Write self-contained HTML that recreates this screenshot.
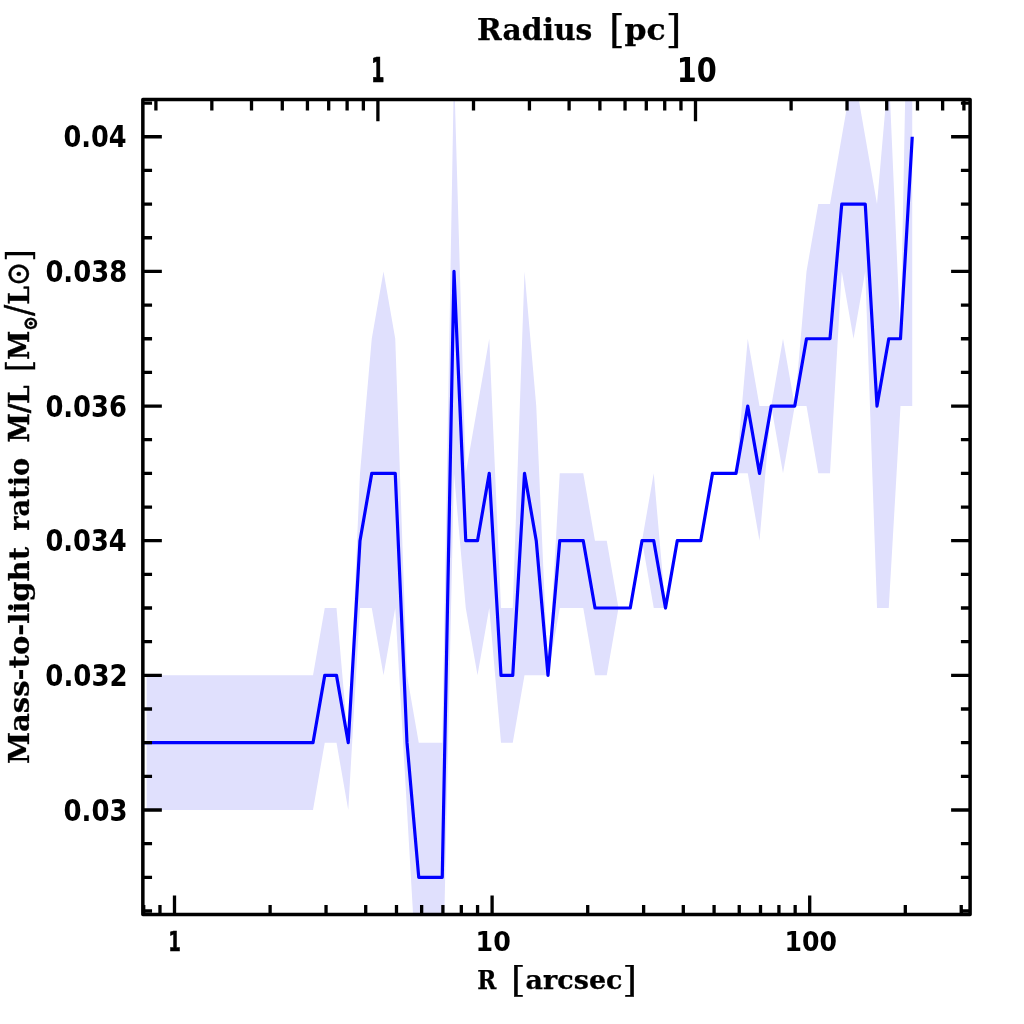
<!DOCTYPE html>
<html lang="en"><head><meta charset="utf-8"><title>Mass-to-light ratio profile</title>
<style>
html,body{margin:0;padding:0;background:#fff;}
body{width:1024px;height:1024px;overflow:hidden;}
svg{display:block;filter:blur(0.5px);}
.t{font-family:"DejaVu Serif Condensed","DejaVu Serif","Liberation Serif",serif;font-weight:bold;fill:#000;}
.r{font-weight:normal;}
.n{font-family:"DejaVu Sans","Liberation Sans",sans-serif;font-weight:bold;fill:#000;}
</style></head><body>
<svg width="1024" height="1024" viewBox="0 0 1024 1024">
<rect width="1024" height="1024" fill="#fff"/>
<defs><clipPath id="c"><rect x="142.85" y="99.4" width="827.25" height="815"/></clipPath></defs>
<g clip-path="url(#c)">
<polygon points="146.6,675.35 313,675.35 324.75,608.02 336.5,608.02 348.25,742.67 360,473.37 371.75,338.73 383.5,271.4 395.25,338.73 407,675.35 418.75,742.67 430.5,742.67 442.25,742.67 454,69.42 465.75,473.37 477.5,406.05 489.25,338.73 501,608.02 512.75,608.02 524.5,271.4 536.25,406.05 548,675.35 559.75,473.37 571.5,473.37 583.25,473.37 595,540.7 606.75,540.7 618.5,608.02 630.25,608.02 642,540.7 653.75,473.37 665.5,608.02 677.25,540.7 689,540.7 700.75,540.7 712.5,473.37 724.25,473.37 736,473.37 747.75,338.73 759.5,406.05 771.25,406.05 783,338.73 794.75,406.05 806.5,271.4 818.25,204.07 830,204.07 841.75,136.75 853.5,69.42 865.25,136.75 877,204.07 888.75,69.42 900.5,338.73 912.25,-267.2 912.25,406.05 900.5,406.05 888.75,608.02 877,608.02 865.25,271.4 853.5,338.73 841.75,271.4 830,473.37 818.25,473.37 806.5,406.05 794.75,406.05 783,473.37 771.25,406.05 759.5,540.7 747.75,473.37 736,473.37 724.25,473.37 712.5,473.37 700.75,540.7 689,540.7 677.25,540.7 665.5,608.02 653.75,608.02 642,540.7 630.25,608.02 618.5,608.02 606.75,675.35 595,675.35 583.25,608.02 571.5,608.02 559.75,608.02 548,675.35 536.25,675.35 524.5,675.35 512.75,742.67 501,742.67 489.25,608.02 477.5,675.35 465.75,608.02 454,473.37 442.25,1011.97 430.5,1011.97 418.75,1011.97 407,810 395.25,608.02 383.5,675.35 371.75,608.02 360,608.02 348.25,810 336.5,742.67 324.75,742.67 313,810 146.6,810" fill="#e0e0fd"/>
<polyline points="142.85,742.67 313,742.67 324.75,675.35 336.5,675.35 348.25,742.67 360,540.7 371.75,473.37 383.5,473.37 395.25,473.37 407,742.67 418.75,877.32 430.5,877.32 442.25,877.32 454,271.4 465.75,540.7 477.5,540.7 489.25,473.37 501,675.35 512.75,675.35 524.5,473.37 536.25,540.7 548,675.35 559.75,540.7 571.5,540.7 583.25,540.7 595,608.02 606.75,608.02 618.5,608.02 630.25,608.02 642,540.7 653.75,540.7 665.5,608.02 677.25,540.7 689,540.7 700.75,540.7 712.5,473.37 724.25,473.37 736,473.37 747.75,406.05 759.5,473.37 771.25,406.05 783,406.05 794.75,406.05 806.5,338.73 818.25,338.73 830,338.73 841.75,204.07 853.5,204.07 865.25,204.07 877,406.05 888.75,338.73 900.5,338.73 912.25,136.75" fill="none" stroke="#0000ff" stroke-width="3.2" stroke-linejoin="round"/>
</g>
<path d="M142.85 910.99H152.05M970.1 910.99H960.9M142.85 877.32H152.05M970.1 877.32H960.9M142.85 843.66H152.05M970.1 843.66H960.9M142.85 810H161.85M970.1 810H951.1M142.85 776.34H152.05M970.1 776.34H960.9M142.85 742.67H152.05M970.1 742.67H960.9M142.85 709.01H152.05M970.1 709.01H960.9M142.85 675.35H161.85M970.1 675.35H951.1M142.85 641.69H152.05M970.1 641.69H960.9M142.85 608.02H152.05M970.1 608.02H960.9M142.85 574.36H152.05M970.1 574.36H960.9M142.85 540.7H161.85M970.1 540.7H951.1M142.85 507.04H152.05M970.1 507.04H960.9M142.85 473.37H152.05M970.1 473.37H960.9M142.85 439.71H152.05M970.1 439.71H960.9M142.85 406.05H161.85M970.1 406.05H951.1M142.85 372.39H152.05M970.1 372.39H960.9M142.85 338.73H152.05M970.1 338.73H960.9M142.85 305.06H152.05M970.1 305.06H960.9M142.85 271.4H161.85M970.1 271.4H951.1M142.85 237.74H152.05M970.1 237.74H960.9M142.85 204.07H152.05M970.1 204.07H960.9M142.85 170.41H152.05M970.1 170.41H960.9M142.85 136.75H161.85M970.1 136.75H951.1M142.85 103.09H152.05M970.1 103.09H960.9M143.72 914.4V905M159.97 914.4V905M174.5 914.4V895.6M270.11 914.4V905M326.03 914.4V905M365.71 914.4V905M396.49 914.4V905M421.64 914.4V905M442.9 914.4V905M461.32 914.4V905M477.57 914.4V905M492.1 914.4V895.6M587.71 914.4V905M643.63 914.4V905M683.31 914.4V905M714.09 914.4V905M739.24 914.4V905M760.5 914.4V905M778.92 914.4V905M795.17 914.4V905M809.7 914.4V895.6M905.31 914.4V905M961.23 914.4V905M155.91 99.4V110.6M211.83 99.4V110.6M251.51 99.4V110.6M282.29 99.4V110.6M307.44 99.4V110.6M328.7 99.4V110.6M347.12 99.4V110.6M363.37 99.4V110.6M377.9 99.4V121.2M473.51 99.4V110.6M529.43 99.4V110.6M569.11 99.4V110.6M599.89 99.4V110.6M625.04 99.4V110.6M646.3 99.4V110.6M664.72 99.4V110.6M680.97 99.4V110.6M695.5 99.4V121.2M791.11 99.4V110.6M847.03 99.4V110.6M886.71 99.4V110.6M917.49 99.4V110.6M942.64 99.4V110.6M963.9 99.4V110.6" stroke="#000" stroke-width="3.3" fill="none"/>
<rect x="142.85" y="99.4" width="827.25" height="815" fill="none" stroke="#000" stroke-width="3.5" stroke-linejoin="round"/>
<text class="t" x="477.13" y="40.3" font-size="30.1" style="stroke:#000;stroke-width:0.25px" textLength="115.21" lengthAdjust="spacingAndGlyphs">Radius</text>
<text class="t" x="608.9" y="40.3" font-size="30.1" style="stroke:#000;stroke-width:0.25px" textLength="72.49" lengthAdjust="spacingAndGlyphs"><tspan style="font-weight:normal" font-size="38.3" dy="1.7">[</tspan><tspan dy="-1.7">pc</tspan><tspan style="font-weight:normal" font-size="38.3" dy="1.7">]</tspan></text>
<text class="n" x="371.04" y="82" font-size="33" style="stroke:#000;stroke-width:0.6px" textLength="13.52" lengthAdjust="spacingAndGlyphs">1</text>
<text class="n" x="676.63" y="82" font-size="33" textLength="40.04" lengthAdjust="spacingAndGlyphs">10</text>
<text class="n" x="168.27" y="950.6" font-size="27.4" style="stroke:#000;stroke-width:0.5px" textLength="12.67" lengthAdjust="spacingAndGlyphs">1</text>
<text class="n" x="475.53" y="950.6" font-size="27.4" textLength="35.24" lengthAdjust="spacingAndGlyphs">10</text>
<text class="n" x="784.55" y="950.6" font-size="27.4" textLength="52.47" lengthAdjust="spacingAndGlyphs">100</text>
<text class="t" x="477.31" y="989" font-size="25.9" style="stroke:#000;stroke-width:0.25px" textLength="19.1" lengthAdjust="spacingAndGlyphs">R</text>
<text class="t" x="511.1" y="989" font-size="25.9" style="stroke:#000;stroke-width:0.25px" textLength="125.89" lengthAdjust="spacingAndGlyphs"><tspan style="font-weight:normal" font-size="35.6" dy="2.5">[</tspan><tspan dy="-2.5">arcsec</tspan><tspan style="font-weight:normal" font-size="35.6" dy="2.5">]</tspan></text>
<text class="n" x="63.49" y="147.45" font-size="29.3" textLength="63.14" lengthAdjust="spacingAndGlyphs">0.04</text>
<text class="n" x="45.38" y="282.1" font-size="29.3" textLength="81.82" lengthAdjust="spacingAndGlyphs">0.038</text>
<text class="n" x="45.38" y="416.75" font-size="29.3" textLength="81.59" lengthAdjust="spacingAndGlyphs">0.036</text>
<text class="n" x="45.38" y="551.4" font-size="29.3" textLength="81.37" lengthAdjust="spacingAndGlyphs">0.034</text>
<text class="n" x="45.37" y="686.05" font-size="29.3" textLength="82.28" lengthAdjust="spacingAndGlyphs">0.032</text>
<text class="n" x="63.47" y="820.7" font-size="29.3" textLength="64.06" lengthAdjust="spacingAndGlyphs">0.03</text>
<g transform="translate(28.9 0) rotate(-90)">
<text class="t" x="-764.12" y="0" font-size="28.8" style="stroke:#000;stroke-width:0.25px" textLength="217.22" lengthAdjust="spacingAndGlyphs">Mass-to-light</text>
<text class="t" x="-530.72" y="0" font-size="28.8" style="stroke:#000;stroke-width:0.25px" textLength="72.82" lengthAdjust="spacingAndGlyphs">ratio</text>
<text class="t" x="-442.16" y="0" font-size="28.8" style="stroke:#000;stroke-width:0.5px" textLength="56.83" lengthAdjust="spacingAndGlyphs">M/L</text>
<text class="t" x="-371.92" y="0" font-size="28.8" style="stroke:#000;stroke-width:0.4px" textLength="122.31" lengthAdjust="spacingAndGlyphs"><tspan style="font-weight:normal" font-size="34" dy="1.5">[</tspan><tspan dy="-1.5">M</tspan><tspan font-size="19.8" dy="7.8">⊙</tspan><tspan style="font-weight:normal" font-size="37" dy="-5.8">/</tspan><tspan dy="-2">L</tspan><tspan style="font-weight:normal" font-size="32.4">⊙</tspan><tspan style="font-weight:normal" font-size="34" dy="1.5">]</tspan></text>
</g>
</svg>
</body></html>
